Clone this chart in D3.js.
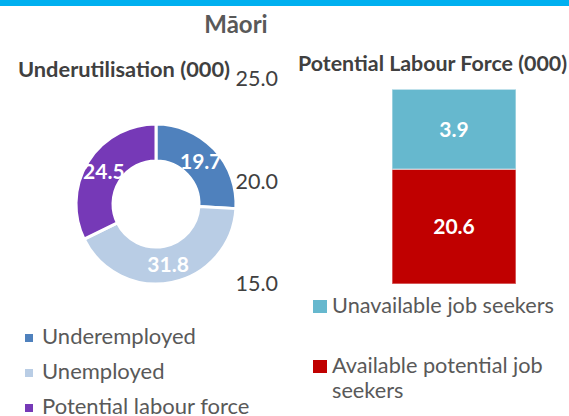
<!DOCTYPE html>
<html>
<head>
<meta charset="utf-8">
<script src="https://cdn.jsdelivr.net/npm/d3@7"></script>
<style>
  body { margin: 0; background: #fff; }
  text { font-family: Lato, "Open Sans", sans-serif; }
</style>
</head>
<body>
<script>
// Data
let donutCategories = ["Underemployed", "Unemployed", "Potential labour force"];
let donutValues = [19.7, 31.8, 24.5];
let donutColors = ["#4f81bd", "#b9cde5", "#7639b7"];

let barSeries = ["Available potential job seekers", "Unavailable job seekers"];
let barValues = [20.6, 3.9];
let barColors = ["#c00000", "#66b8ce"];
let axisTicks = [15, 20, 25];

let W = 569, H = 416;

let svg = d3.select("body").append("svg")
    .attr("width", W)
    .attr("height", H);

// top strip
svg.append("rect")
    .attr("x", 0).attr("y", 0)
    .attr("width", W).attr("height", 6)
    .attr("fill", "#00b0f0");

// Titles
svg.append("text")
    .attr("x", 236).attr("y", 33)
    .attr("text-anchor", "middle")
    .attr("font-size", 24)
    .attr("font-weight", "bold")
    .attr("fill", "#595959")
    .text("Māori");

svg.append("text")
    .attr("x", 18).attr("y", 77)
    .attr("font-size", 21.8)
    .attr("font-weight", "bold")
    .attr("fill", "#404040")
    .text("Underutilisation (000)");

svg.append("text")
    .attr("x", 298).attr("y", 71)
    .attr("font-size", 21.4)
    .attr("font-weight", "bold")
    .attr("fill", "#404040")
    .text("Potential Labour Force (000)");

// Donut
let cx = 156, cy = 204, outerR = 80, innerR = 43;

let pie = d3.pie().sort(null).value(d => d.value);
let arc = d3.arc().innerRadius(innerR).outerRadius(outerR);

let donutData = donutCategories.map((c, i) => ({ name: c, value: donutValues[i], color: donutColors[i] }));

let donut = svg.append("g").attr("transform", `translate(${cx},${cy})`);

donut.selectAll("path")
    .data(pie(donutData))
    .enter()
    .append("path")
    .attr("d", arc)
    .attr("fill", d => d.data.color)
    .attr("stroke", "#fff")
    .attr("stroke-width", 3);

donut.selectAll("text")
    .data(pie(donutData))
    .enter()
    .append("text")
    .attr("transform", d => `translate(${arc.centroid(d)})`)
    .attr("text-anchor", "middle")
    .attr("dy", "0.35em")
    .attr("font-size", 21)
    .attr("font-weight", "bold")
    .attr("fill", "#fff")
    .text(d => d3.format(".1f")(d.data.value));

// Stacked bar with value axis 15 - 25
let y = d3.scaleLinear().domain([15, 25]).range([284, 79]).clamp(true);
let x = d3.scaleBand().domain(["Māori"]).range([330, 578]).paddingOuter(0.5);

let axis = svg.append("g")
    .attr("transform", "translate(284,0)")
    .call(d3.axisLeft(y).tickValues(axisTicks).tickFormat(d3.format(".1f")).tickSize(0).tickPadding(6));
axis.select(".domain").remove();
axis.selectAll("text")
    .attr("font-size", 21.5)
    .attr("font-family", "Lato, 'Open Sans', sans-serif")
    .attr("fill", "#404040");

let row = {};
barSeries.forEach((s, i) => row[s] = barValues[i]);
let stacked = d3.stack().keys(barSeries)([row]);

let bars = svg.append("g");
bars.selectAll("rect")
    .data(stacked)
    .enter()
    .append("rect")
    .attr("x", x("Māori"))
    .attr("width", x.bandwidth())
    .attr("y", d => y(d[0][1]))
    .attr("height", d => y(d[0][0]) - y(d[0][1]))
    .attr("fill", (d, i) => barColors[i])
    .attr("stroke", "#fff")
    .attr("stroke-opacity", 0.45)
    .attr("stroke-width", 1.5);

bars.selectAll("text")
    .data(stacked)
    .enter()
    .append("text")
    .attr("x", x("Māori") + x.bandwidth() / 2)
    .attr("y", d => (y(d[0][0]) + y(d[0][1])) / 2)
    .attr("dy", "0.35em")
    .attr("text-anchor", "middle")
    .attr("font-size", 21)
    .attr("font-weight", "bold")
    .attr("fill", "#fff")
    .text(d => d3.format(".1f")(d[0].data[d.key]));

// Donut legend
let leftLegend = svg.append("g").selectAll("g")
    .data(donutData)
    .enter()
    .append("g")
    .attr("transform", (d, i) => `translate(25,${344 + i * 35})`);

leftLegend.append("rect")
    .attr("x", 0).attr("y", -10)
    .attr("width", 8).attr("height", 8)
    .attr("fill", d => d.color);

leftLegend.append("text")
    .attr("x", 17).attr("y", 0)
    .attr("font-size", 22)
    .attr("fill", "#595959")
    .text(d => d.name);

// Bar legend (reverse stack order)
let rightItems = [
    { lines: ["Unavailable job seekers"], color: barColors[1], y: 313 },
    { lines: ["Available potential job", "seekers"], color: barColors[0], y: 373 }
];

let rightLegend = svg.append("g").selectAll("g")
    .data(rightItems)
    .enter()
    .append("g")
    .attr("transform", d => `translate(313,${d.y})`);

rightLegend.append("rect")
    .attr("x", 0).attr("y", -13)
    .attr("width", 14).attr("height", 13)
    .attr("fill", d => d.color);

rightLegend.each(function(d) {
    let t = d3.select(this).append("text")
        .attr("font-size", 21.7)
        .attr("fill", "#595959");
    d.lines.forEach((l, i) => {
        t.append("tspan").attr("x", 19).attr("y", i * 25).text(l);
    });
});
</script>
</body>
</html>
